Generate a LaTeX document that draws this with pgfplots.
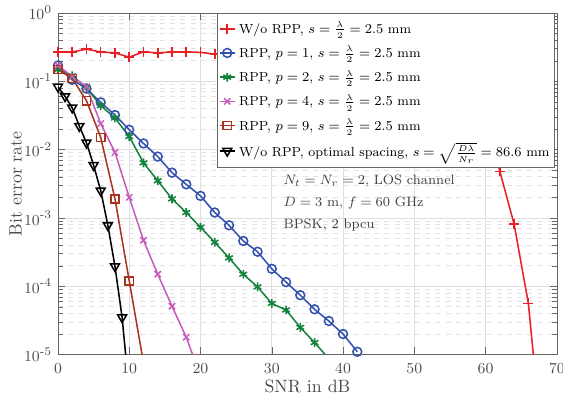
\documentclass[border=0pt]{standalone}
\usepackage{pgfplots}
\pgfplotsset{compat=1.18}
\definecolor{cred}{RGB}{235,30,35}
\definecolor{cblue}{RGB}{50,80,175}
\definecolor{cgreen}{RGB}{20,130,60}
\definecolor{cmag}{RGB}{200,90,190}
\definecolor{cbrown}{RGB}{170,50,30}
\newcommand{\hy}{\mbox{\scriptsize -}}
\begin{document}
\begin{tikzpicture}
\begin{axis}[
 name=ax,
 scale only axis, width=293.5pt, height=201pt,
 ymode=log, xmin=0, xmax=70, ymin=1e-5, ymax=1,
 xtick={0,10,...,70},
 ytick={1e-5,1e-4,1e-3,1e-2,1e-1,1},
 yticklabels={$10^{\hy5}$,$10^{\hy4}$,$10^{\hy3}$,$10^{\hy2}$,$10^{\hy1}$,$10^{0}$},
 grid=both,
 major grid style={gray!25, solid},
 minor grid style={gray!22, dashed},
 axis line style={black!60},
 tick style={black!60},
 tick align=inside,
 ticklabel style={font=\fontsize{9.5}{11}\selectfont, text=black!70},
 xticklabel style={yshift=-2pt},
 xlabel={SNR in dB}, ylabel={Bit error rate},
 label style={font=\fontsize{10.5}{12}\selectfont, text=black!70},
 xlabel style={at={(axis description cs:0.5,-0.092)}, anchor=center},
 ylabel style={at={(axis description cs:-0.085,0.5)}, anchor=center},
 legend style={at={(0.996,1)}, anchor=north east, font=\fontsize{7.7}{9.5}\selectfont,
   draw=black!60, inner xsep=1pt, inner ysep=3pt, row sep=2pt},
 legend cell align=left,
 legend image code/.code={\draw[mark repeat=2,mark phase=2] plot coordinates {(0cm,0cm) (0.16cm,0cm) (0.32cm,0cm)};},
 every axis plot/.append style={line width=0.9pt},
]
\addplot[color=cred, mark=+, mark size=3pt, mark options={solid}] coordinates {
(0,0.268)(2,0.268)(4,0.295)(6,0.268)(8,0.26)(10,0.225)(12,0.27)(14,0.26)(16,0.268)(18,0.268)(20,0.265)(22,0.25)(24,0.25)(26,0.26)(28,0.26)(30,0.255)(32,0.26)(34,0.255)(36,0.26)(38,0.255)(40,0.26)(42,0.255)(44,0.26)(46,0.255)(48,0.26)(50,0.255)(52,0.26)(54,0.255)(56,0.26)(58,0.25)(60,0.03)(62,4.8e-3)(64,8.1e-4)(66,5.6e-5)(68,4e-7)};
\addlegendentry{W/o RPP, $s=\frac{\lambda}{2}=2.5$ mm}
\addplot[color=cblue, mark=o, mark size=2.6pt, mark options={solid}] coordinates {
(0,0.17)(2,0.105)(4,0.078)(6,0.049)(8,0.032)(10,0.0195)(12,0.0123)(14,0.0079)(16,0.0046)(18,0.0031)(20,0.0021)(22,0.0012)(24,7.8e-4)(26,4.6e-4)(28,3.2e-4)(30,1.8e-4)(32,1.15e-4)(34,7.4e-5)(36,4.6e-5)(38,3.1e-5)(40,2.0e-5)(42,1.1e-5)};
\addlegendentry{RPP, $p=1$, $s=\frac{\lambda}{2}=2.5$ mm}
\addplot[color=cgreen, mark=asterisk, mark size=2.6pt, mark options={solid}] coordinates {
(0,0.148)(2,0.12)(4,0.08)(6,0.044)(8,0.029)(10,0.0155)(12,0.0064)(14,0.0035)(16,0.0019)(18,0.0012)(20,7.3e-4)(22,4.4e-4)(24,2.6e-4)(26,1.5e-4)(28,9.8e-5)(30,5.6e-5)(32,4.5e-5)(34,2.5e-5)(36,1.5e-5)(38,8.7e-6)};
\addlegendentry{RPP, $p=2$, $s=\frac{\lambda}{2}=2.5$ mm}
\addplot[color=cmag, mark=x, mark size=2.6pt, mark options={solid}] coordinates {
(0,0.17)(2,0.117)(4,0.083)(6,0.024)(8,0.0091)(10,0.0020)(12,4.7e-4)(14,1.5e-4)(16,5.1e-5)(18,1.8e-5)(20,4.8e-6)};
\addlegendentry{RPP, $p=4$, $s=\frac{\lambda}{2}=2.5$ mm}
\addplot[color=cbrown, mark=square, mark size=2.4pt, mark options={solid}] coordinates {
(0,0.148)(2,0.11)(4,0.052)(6,0.015)(8,0.0019)(10,1.2e-4)(12,7.6e-6)};
\addlegendentry{RPP, $p=9$, $s=\frac{\lambda}{2}=2.5$ mm}
\addplot[color=black, mark=triangle, mark size=3pt, mark options={solid, rotate=180}] coordinates {
(0,0.083)(1,0.06)(2,0.041)(3,0.022)(4,0.0126)(5,0.0059)(6,0.0025)(7,7.8e-4)(8,1.95e-4)(9,3.5e-5)(10,2.8e-6)};
\addlegendentry{W/o RPP, optimal spacing, $s=\sqrt{\frac{D\lambda}{N_r}}=86.6$ mm}
\node[anchor=north west, align=left, font=\fontsize{8}{13}\selectfont, text=black!75, inner sep=0pt] at (axis cs:31.6,4.3e-3) {$N_t=N_r=2$, LOS channel\\ $D=3$ m, $f=60$ GHz\\ BPSK, 2 bpcu};
\end{axis}
\pgfresetboundingbox
\path ([shift={(-34.1pt,-33.8pt)}]ax.south west) rectangle ([shift={(3.6pt,7.6pt)}]ax.north east);
\end{tikzpicture}
\end{document}
